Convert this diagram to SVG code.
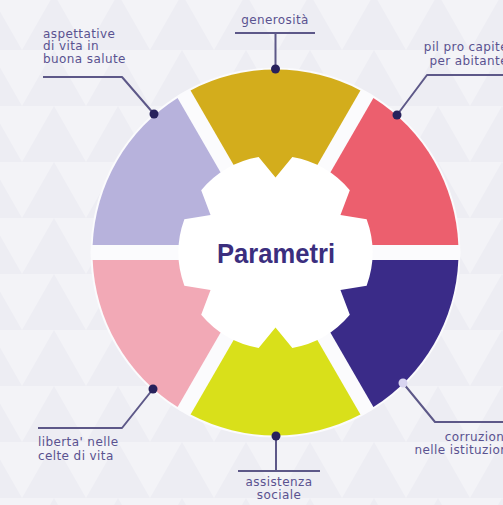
<svg xmlns="http://www.w3.org/2000/svg" width="503" height="505" viewBox="0 0 503 505">
  <defs>
    <pattern id="tri" width="64" height="56" patternUnits="userSpaceOnUse" x="-10" y="-6">
      <polygon points="0,0 64,0 32,56" fill="#f3f3f7"/>
    </pattern>
    <style>
      .lbl { font-family: "DejaVu Sans", "Liberation Sans", sans-serif; font-size: 12px; letter-spacing: 0.4px; fill: #5a5290; }
      .lead { fill: none; stroke: #5d5888; stroke-width: 2; stroke-linejoin: round; }
      .dot { fill: #27215c; }
      .title { font-family: "Liberation Sans", Arial, sans-serif; font-weight: bold; font-size: 28px; fill: #3b2e7e; }
    </style>
  </defs>

  <rect width="503" height="505" fill="#ededf3"/>
  <rect width="503" height="505" fill="url(#tri)"/>

  <!-- white base (gaps) -->
  <circle cx="275.5" cy="252.5" r="185" fill="#fbfbfd"/>

  <g id="sector-pil">
    <path d="M458.35,245 A183,183 0 0 0 373.42,97.9 L312,204.29 L335.5,245 Z" fill="#ec5f6e"/>
  </g>
  <g id="sector-generosita">
    <path d="M360.43,90.4 A183,183 0 0 0 190.57,90.4 L252,196.79 L299,196.79 Z" fill="#d3ad1c"/>
  </g>
  <g id="sector-aspettative">
    <path d="M177.58,97.9 A183,183 0 0 0 92.65,245 L215.5,245 L239,204.29 Z" fill="#b7b2dc"/>
  </g>
  <g id="sector-liberta">
    <path d="M92.65,260 A183,183 0 0 0 177.58,407.1 L239,300.71 L215.5,260 Z" fill="#f2a9b6"/>
  </g>
  <g id="sector-assistenza">
    <path d="M190.57,414.6 A183,183 0 0 0 360.43,414.6 L299,308.21 L252,308.21 Z" fill="#d9e01a"/>
  </g>
  <g id="sector-corruzione">
    <path d="M373.42,407.1 A183,183 0 0 0 458.35,260 L335.5,260 L312,300.71 Z" fill="#3a2b88"/>
  </g>

  <g id="center">
    <path d="M366.65,219.32 L340.45,215 L349.81,190.15 A97,97 0 0 0 292.34,156.97 L275.5,177.5 L258.66,156.97 A97,97 0 0 0 201.19,190.15 L210.55,215 L184.35,219.32 A97,97 0 0 0 184.35,285.68 L210.55,290 L201.19,314.85 A97,97 0 0 0 258.66,348.03 L275.5,327.5 L292.34,348.03 A97,97 0 0 0 349.81,314.85 L340.45,290 L366.65,285.68 A97,97 0 0 0 366.65,219.32 Z" fill="#ffffff"/>
    <text class="title" x="276" y="263" text-anchor="middle" textLength="118" lengthAdjust="spacingAndGlyphs">Parametri</text>
  </g>

  <g id="connectors">
    <polyline class="lead" points="235,33 315,33"/>
    <polyline class="lead" points="275.5,33 275.5,69"/>
    <polyline class="lead" points="43,77 122,77 154,114"/>
    <polyline class="lead" points="503,75 427,75 397,115"/>
    <polyline class="lead" points="38,428 122,428 153,389"/>
    <polyline class="lead" points="276,436 276,471"/>
    <polyline class="lead" points="238,471 320,471"/>
    <polyline class="lead" points="403,383 435,422 503,422"/>
    <circle class="dot" cx="275.5" cy="69" r="4.5"/>
    <circle class="dot" cx="154" cy="114" r="4.5"/>
    <circle class="dot" cx="397" cy="115" r="4.5"/>
    <circle class="dot" cx="153" cy="389" r="4.5"/>
    <circle class="dot" cx="276" cy="436" r="4.5"/>
    <circle cx="403" cy="383" r="4.5" fill="#d8d4f0"/>
  </g>

  <g id="label-generosita">
    <text class="lbl" x="275" y="24" text-anchor="middle">generosità</text>
  </g>
  <g id="label-aspettative">
    <text class="lbl" x="43" y="37.5">aspettative</text>
    <text class="lbl" x="43" y="50">di vita in</text>
    <text class="lbl" x="43" y="62.5">buona salute</text>
  </g>
  <g id="label-pil">
    <text class="lbl" x="508" y="50.5" text-anchor="end">pil pro capite</text>
    <text class="lbl" x="508" y="64.5" text-anchor="end">per abitante</text>
  </g>
  <g id="label-liberta">
    <text class="lbl" x="38" y="446">liberta' nelle</text>
    <text class="lbl" x="38" y="460">celte di vita</text>
  </g>
  <g id="label-assistenza">
    <text class="lbl" x="279" y="486" text-anchor="middle">assistenza</text>
    <text class="lbl" x="279" y="498.5" text-anchor="middle">sociale</text>
  </g>
  <g id="label-corruzione">
    <text class="lbl" x="512" y="441" text-anchor="end">corruzione</text>
    <text class="lbl" x="512" y="453.5" text-anchor="end">nelle istituzioni</text>
  </g>
</svg>
